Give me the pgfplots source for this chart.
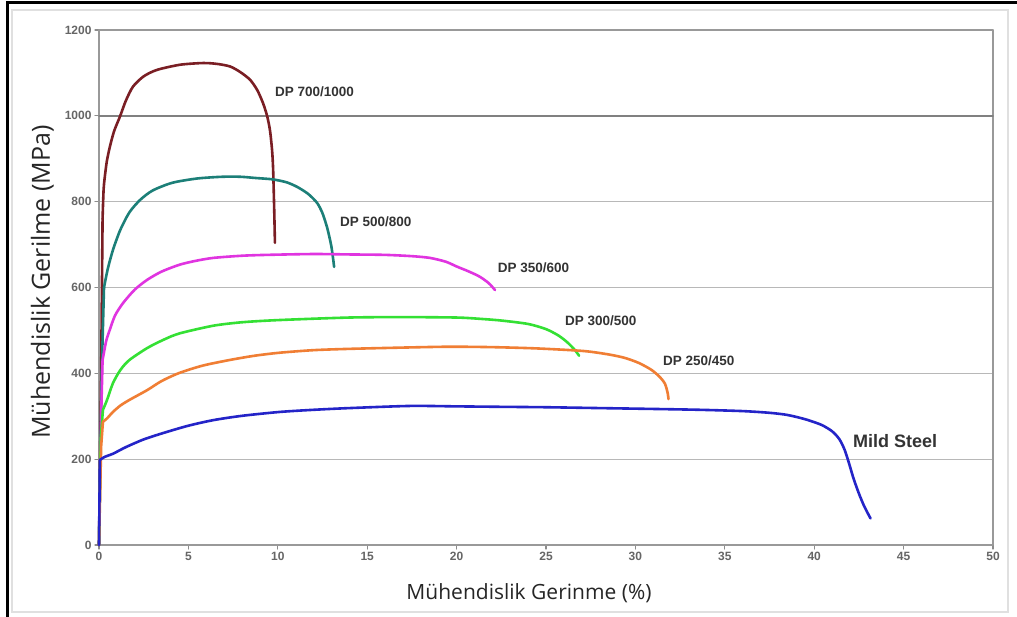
\documentclass[border=0pt]{standalone}
\usepackage{pgfplots}
\pgfplotsset{compat=1.18}
\usepackage{fontspec}
\setmainfont{Liberation Sans}
\newfontfamily\titlefont{Open Sans}
\definecolor{cDPa}{HTML}{7A1E24}
\definecolor{cDPb}{HTML}{1C7F78}
\definecolor{cDPc}{HTML}{E034E0}
\definecolor{cDPd}{HTML}{34E034}
\definecolor{cDPe}{HTML}{F07E34}
\definecolor{cMild}{HTML}{2424C8}
\begin{document}
\begin{tikzpicture}[x=1pt,y=1pt]
\path[use as bounding box] (-99,-72) rectangle (918,545);
\fill[white] (-99,-72) rectangle (918,545);
\draw[black!12, line width=1.5pt] (-87,-67) rectangle (909,535);
\draw[black, line width=3pt] (-91,-72) -- (-91,542) -- (918,542);
\begin{axis}[
  at={(0,0)}, anchor=south west, scale only axis,
  width=894pt, height=515pt,
  xmin=0, xmax=50, ymin=0, ymax=1200,
  xtick={0,5,...,50}, ytick={0,200,...,1200},
  ymajorgrids,
  major grid style={draw=black!28, line width=1.3pt},
  axis line style={draw=black!40, line width=1.5pt},
  tick style={draw=black!45, line width=1.2pt},
  tick align=outside, major tick length=4pt,
  xtick pos=bottom, ytick pos=left,
  /pgf/number format/assume math mode=true,
  /pgf/number format/1000 sep={},
  ticklabel style={font=\fontsize{12}{12}\selectfont\bfseries, text=black!60},
  clip=false,
  line join=round, line cap=round,
  every axis plot/.append style={line width=2.6pt},
  curve/.style={smooth, tension=0.45},
]
\draw[black!50, line width=1.6pt] (axis cs:0,1000) -- (axis cs:50,1000);
% DP 700/1000
\addplot[cDPa] coordinates {(0,0)(0.12,400)(0.2,760)};
\addplot[cDPa, curve] coordinates {
(0.2,760)(0.26,830)(0.36,870)(0.45,897)(0.62,930)(0.85,965)(1.17,998)(1.5,1035)(1.9,1068)(2.5,1092)(3.24,1107)(4.53,1119)(5.82,1123)(6.6,1121)(7.33,1115)(7.9,1102)(8.45,1084)(8.85,1060)(9.17,1030)(9.4,1000)(9.56,967)(9.68,920)(9.74,874)(9.8,780)(9.84,704)};
% DP 500/800
\addplot[cDPb] coordinates {(0,0)(0.15,400)(0.28,600)};
\addplot[cDPb, curve] coordinates {
(0.28,600)(0.5,645)(0.8,690)(1.2,735)(1.7,775)(2.3,804)(3.0,826)(4.1,844)(5.5,854)(6.9,858)(7.9,858)(8.8,855)(9.7,852)(10.5,845)(11.1,834)(11.7,818)(12.2,797)(12.5,773)(12.75,741)(12.9,715)(13.0,695)(13.1,665)(13.15,648)};
% DP 350/600
\addplot[cDPc] coordinates {(0,0)(0.12,300)(0.2,431)};
\addplot[cDPc, curve] coordinates {
(0.2,431)(0.4,475)(0.6,501)(0.9,535)(1.35,564)(2.0,595)(2.7,618)(3.5,637)(4.5,653)(5.4,662)(6.4,669)(8.0,674)(9.4,676)(12,678)(14,677)(16,676)(17.5,673)(18.5,669)(19.4,660)(20.0,649)(20.7,637)(21.3,625)(21.8,610)(22.15,594)};
% DP 300/500
\addplot[cDPd] coordinates {(0,0)(0.1,250)(0.22,315)};
\addplot[cDPd, curve] coordinates {
(0.22,315)(0.45,338)(0.78,377)(1.2,408)(1.7,431)(2.7,459)(3.6,478)(4.5,493)(6.4,511)(8,519)(10,524)(14,530)(17,531)(20,530)(21.3,527)(22.5,523)(24.0,515)(25.0,503)(25.7,488)(26.2,472)(26.6,455)(26.85,441)};
% DP 250/450
\addplot[cDPe] coordinates {(0,0)(0.12,230)(0.22,287)};
\addplot[cDPe, curve] coordinates {
(0.22,287)(0.45,295)(0.78,310)(1.2,325)(1.7,338)(2.7,361)(3.5,382)(4.5,401)(5.8,418)(7.3,431)(8.7,441)(10.1,448)(12,454)(14,457)(17,460)(19.6,462)(22,461)(24.5,458)(27.1,452)(28.5,444)(29.4,436)(30.2,424)(30.9,408)(31.35,392)(31.65,376)(31.8,355)(31.85,340)};
% Mild Steel
\addplot[cMild] coordinates {(0,0)(0.05,198)};
\addplot[cMild, curve] coordinates {
(0.05,198)(0.3,205)(0.8,213)(1.5,228)(2.5,246)(3.6,261)(5,278)(6.4,291)(8,301)(10.1,310)(12,315)(14,319)(17.4,324)(20,323)(22.4,322)(25,321)(28,319)(31,317)(33.6,315)(36,312)(37.5,308)(38.5,303)(39.5,293)(40.4,280)(41.0,265)(41.4,247)(41.7,222)(41.95,190)(42.2,155)(42.5,120)(42.8,90)(43.15,62)};
\begin{scope}[every node/.style={anchor=west, inner sep=0pt, text=black!80, font=\fontsize{13.5}{13.5}\selectfont\bfseries}]
\node at (axis cs:9.84,1056) {DP 700/1000};
\node at (axis cs:13.48,753) {DP 500/800};
\node at (axis cs:22.3,646) {DP 350/600};
\node at (axis cs:26.06,522) {DP 300/500};
\node at (axis cs:31.54,429) {DP 250/450};
\node[font=\fontsize{18}{18}\selectfont\bfseries] at (axis cs:42.17,242) {Mild Steel};
\end{scope}
\end{axis}
\node[anchor=base, inner sep=0pt, font=\titlefont\fontsize{21}{21}\selectfont, text=black!85] at (430,-55) {Mühendislik Gerinme (\%)};
\node[anchor=base, rotate=90, inner sep=0pt, font=\titlefont\fontsize{25}{25}\selectfont, text=black!85] at (-49,263) {Mühendislik Gerilme (MPa)};
\end{tikzpicture}
\end{document}
